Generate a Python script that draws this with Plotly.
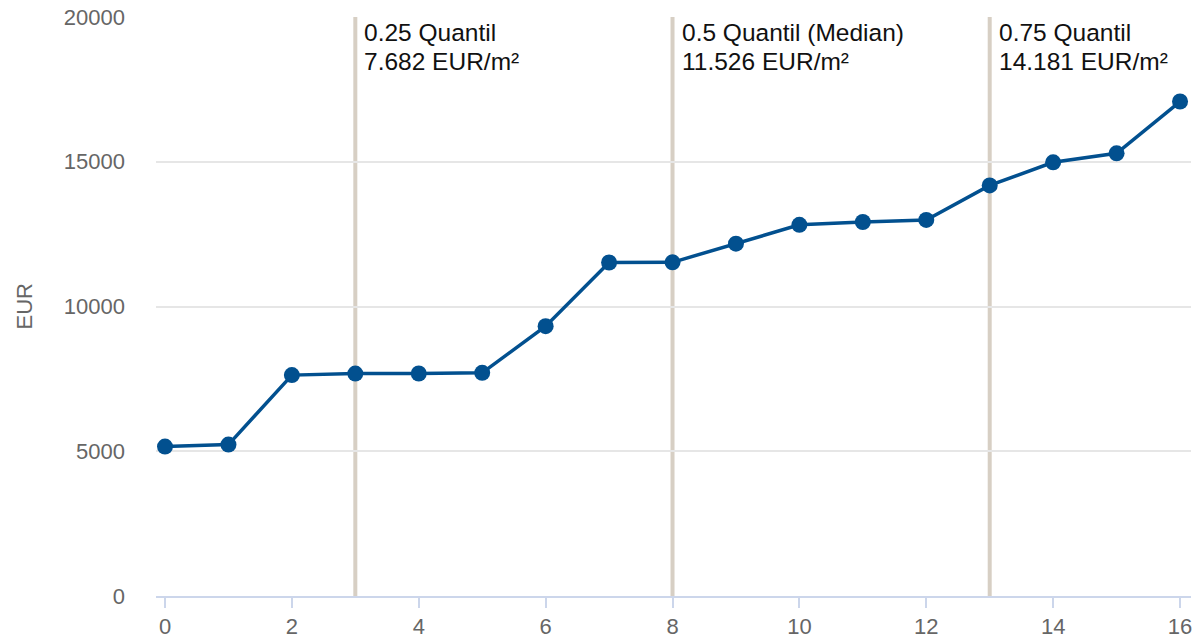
import plotly.graph_objects as go

# data
x_idx = list(range(17))
eur = [5160, 5230, 7630, 7682, 7685, 7710, 9320, 11520, 11526, 12170,
       12820, 12920, 12990, 14181, 14980, 15290, 17080]

q_pos = [3, 8, 13]
q_line1 = ["0.25 Quantil", "0.5 Quantil (Median)", "0.75 Quantil"]
q_line2 = ["7.682 EUR/m²", "11.526 EUR/m²", "14.181 EUR/m²"]

LINECOL = "#02508f"
QCOL = "#d7cfc4"
FONT = "Liberation Sans, Arial, Helvetica, sans-serif"

fig = go.Figure()

# quantile lines, drawn below the series
for xq in q_pos:
    fig.add_shape(type="line", xref="x", yref="paper",
                  x0=xq, x1=xq, y0=0, y1=1,
                  line=dict(color=QCOL, width=4), layer="below")

fig.add_trace(go.Scatter(
    x=x_idx, y=eur,
    mode="lines+markers",
    line=dict(color=LINECOL, width=3.5),
    marker=dict(color=LINECOL, size=16),
    showlegend=False,
))

# two text lines per quantile, placed separately to get the line spacing
for xq, t1, t2 in zip(q_pos, q_line1, q_line2):
    for txt, ys in ((t1, 0.5), (t2, -28.5)):
        fig.add_annotation(x=xq, y=1, xref="x", yref="paper",
                           text=txt, showarrow=False,
                           xanchor="left", yanchor="top", align="left",
                           xshift=7, yshift=ys,
                           font=dict(size=24.5, color="#111111", family=FONT))

# y axis title as annotation so it can sit further left
fig.add_annotation(x=0, y=0.5, xref="paper", yref="paper",
                   text="EUR", showarrow=False, textangle=-90,
                   xanchor="center", yanchor="middle", xshift=-132,
                   font=dict(size=22, color="#666666", family=FONT))

fig.update_layout(
    width=1196, height=643,
    plot_bgcolor="white", paper_bgcolor="white",
    margin=dict(l=156, r=4, t=17, b=44),
    font=dict(family=FONT, size=22, color="#666666"),
)

fig.update_xaxes(
    range=[-0.142, 16.173],
    tickvals=list(range(0, 17, 2)),
    showgrid=False, zeroline=False,
    showline=True, linecolor="#ccd6eb", linewidth=2,
    ticks="outside", ticklen=10, tickwidth=2, tickcolor="#ccd6eb",
    tickfont=dict(size=22, color="#666666"),
)
fig.update_yaxes(
    range=[0, 20000],
    tickvals=[0, 5000, 10000, 15000, 20000],
    ticktext=["0", "5000", "10000", "15000", "20000"],
    showgrid=True, gridcolor="#e6e6e6", gridwidth=2,
    zeroline=False, showline=False,
    ticklabelstandoff=30,
    tickfont=dict(size=22, color="#666666"),
)

# drop the default body margin so the figure fills the window exactly
fig.write_html("out.html", config={"displayModeBar": False},
               post_script="document.body.style.margin='0';")
